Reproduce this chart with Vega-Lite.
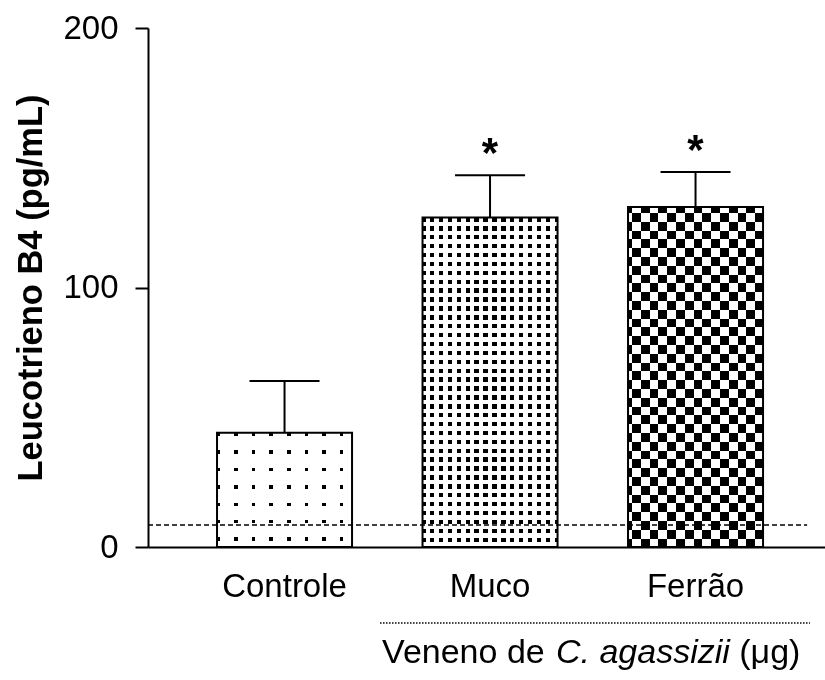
{
  "$schema": "https://vega.github.io/schema/vega-lite/v6.json",
  "width": 677,
  "height": 519,
  "autosize": "none",
  "padding": {"left": 148, "top": 28, "right": 0, "bottom": 133},
  "config": {
    "font": "Liberation Sans",
    "view": {"stroke": null},
    "axisY": {"grid": false, "tickSize": 13, "tickWidth": 2, "tickColor": "black", "domainWidth": 2, "domainColor": "black", "labelFontSize": 33, "labelPadding": 17, "labelColor": "black", "titleFontSize": 34.5, "titleFontWeight": "bold", "titleColor": "black", "titlePadding": 14}
  },
  "data": {
    "values": [
      {"grupo": "Controle", "media": 44, "sup": 64, "sig": ""},
      {"grupo": "Muco", "media": 127, "sup": 143.3, "sig": "*"},
      {"grupo": "Ferrão", "media": 131, "sup": 144.5, "sig": "*"}
    ]
  },
  "resolve": {"scale": {"x": "independent"}},
  "layer": [
    {
      "encoding": {
        "x": {
          "field": "grupo", "type": "nominal",
          "scale": {"domain": ["Controle", "Muco", "Ferrão"], "paddingInner": 0.343, "paddingOuter": 0.3187, "align": 0.527},
          "axis": {"title": null, "ticks": false, "tickSize": 0, "labelFontSize": 33, "labelPadding": 23, "labelAngle": 0, "domainWidth": 2, "domainColor": "black", "labelColor": "black"}
        },
        "y": {
          "field": "media", "type": "quantitative",
          "scale": {"domain": [0, 200], "nice": false, "zero": false},
          "axis": {"title": "Leucotrieno B4 (pg/mL)", "values": [0, 100, 200]}
        }
      },
      "layer": [
        {
          "transform": [{"filter": "datum.grupo == 'Controle'"}],
          "mark": {"type": "bar", "fill": {"gradient": "linear", "x1": 0, "y1": 0, "x2": 1, "y2": 0, "stops": [
            {"offset": 0, "color": "#000"}, {"offset": 0.0222, "color": "#000"}, {"offset": 0.0222, "color": "#fff"}, {"offset": 0.1274, "color": "#fff"},
            {"offset": 0.1274, "color": "#000"}, {"offset": 0.1526, "color": "#000"}, {"offset": 0.1526, "color": "#fff"}, {"offset": 0.2584, "color": "#fff"},
            {"offset": 0.2584, "color": "#000"}, {"offset": 0.2836, "color": "#000"}, {"offset": 0.2836, "color": "#fff"}, {"offset": 0.3884, "color": "#fff"},
            {"offset": 0.3884, "color": "#000"}, {"offset": 0.4136, "color": "#000"}, {"offset": 0.4136, "color": "#fff"}, {"offset": 0.5194, "color": "#fff"},
            {"offset": 0.5194, "color": "#000"}, {"offset": 0.5446, "color": "#000"}, {"offset": 0.5446, "color": "#fff"}, {"offset": 0.6504, "color": "#fff"},
            {"offset": 0.6504, "color": "#000"}, {"offset": 0.6756, "color": "#000"}, {"offset": 0.6756, "color": "#fff"}, {"offset": 0.7804, "color": "#fff"},
            {"offset": 0.7804, "color": "#000"}, {"offset": 0.8056, "color": "#000"}, {"offset": 0.8056, "color": "#fff"}, {"offset": 0.9114, "color": "#fff"},
            {"offset": 0.9114, "color": "#000"}, {"offset": 0.9366, "color": "#000"}, {"offset": 0.9366, "color": "#fff"}, {"offset": 1, "color": "#fff"}
          ]}}
        },
        {
          "transform": [{"filter": "datum.grupo == 'Controle'"}],
          "mark": {"type": "bar", "fill": {"gradient": "linear", "x1": 0, "y1": 0, "x2": 0, "y2": 1, "stops": [
            {"offset": 0, "color": "#fff"}, {"offset": 0.0017, "color": "#fff"}, {"offset": 0.0017, "color": "rgba(255,255,255,0)"}, {"offset": 0.0315, "color": "rgba(255,255,255,0)"},
            {"offset": 0.0315, "color": "#fff"}, {"offset": 0.1541, "color": "#fff"}, {"offset": 0.1541, "color": "rgba(255,255,255,0)"}, {"offset": 0.1839, "color": "rgba(255,255,255,0)"},
            {"offset": 0.1839, "color": "#fff"}, {"offset": 0.3061, "color": "#fff"}, {"offset": 0.3061, "color": "rgba(255,255,255,0)"}, {"offset": 0.3359, "color": "rgba(255,255,255,0)"},
            {"offset": 0.3359, "color": "#fff"}, {"offset": 0.4591, "color": "#fff"}, {"offset": 0.4591, "color": "rgba(255,255,255,0)"}, {"offset": 0.4889, "color": "rgba(255,255,255,0)"},
            {"offset": 0.4889, "color": "#fff"}, {"offset": 0.6111, "color": "#fff"}, {"offset": 0.6111, "color": "rgba(255,255,255,0)"}, {"offset": 0.6409, "color": "rgba(255,255,255,0)"},
            {"offset": 0.6409, "color": "#fff"}, {"offset": 0.7631, "color": "#fff"}, {"offset": 0.7631, "color": "rgba(255,255,255,0)"}, {"offset": 0.7929, "color": "rgba(255,255,255,0)"},
            {"offset": 0.7929, "color": "#fff"}, {"offset": 0.9161, "color": "#fff"}, {"offset": 0.9161, "color": "rgba(255,255,255,0)"}, {"offset": 0.9459, "color": "rgba(255,255,255,0)"},
            {"offset": 0.9459, "color": "#fff"}, {"offset": 1, "color": "#fff"}
          ]}}
        },
        {
          "transform": [{"filter": "datum.grupo == 'Muco'"}],
          "mark": {"type": "bar", "fill": {"gradient": "linear", "x1": 0, "y1": 0, "x2": 1, "y2": 0, "stops": [
            {"offset": 0, "color": "#000"}, {"offset": 0.0222, "color": "#000"}, {"offset": 0.0222, "color": "#fff"}, {"offset": 0.0555, "color": "#fff"},
            {"offset": 0.0555, "color": "#000"}, {"offset": 0.0881, "color": "#000"}, {"offset": 0.0881, "color": "#fff"}, {"offset": 0.1214, "color": "#fff"},
            {"offset": 0.1214, "color": "#000"}, {"offset": 0.154, "color": "#000"}, {"offset": 0.154, "color": "#fff"}, {"offset": 0.1873, "color": "#fff"},
            {"offset": 0.1873, "color": "#000"}, {"offset": 0.2199, "color": "#000"}, {"offset": 0.2199, "color": "#fff"}, {"offset": 0.2531, "color": "#fff"},
            {"offset": 0.2531, "color": "#000"}, {"offset": 0.2857, "color": "#000"}, {"offset": 0.2857, "color": "#fff"}, {"offset": 0.319, "color": "#fff"},
            {"offset": 0.319, "color": "#000"}, {"offset": 0.3516, "color": "#000"}, {"offset": 0.3516, "color": "#fff"}, {"offset": 0.3849, "color": "#fff"},
            {"offset": 0.3849, "color": "#000"}, {"offset": 0.4175, "color": "#000"}, {"offset": 0.4175, "color": "#fff"}, {"offset": 0.4508, "color": "#fff"},
            {"offset": 0.4508, "color": "#000"}, {"offset": 0.4834, "color": "#000"}, {"offset": 0.4834, "color": "#fff"}, {"offset": 0.5166, "color": "#fff"},
            {"offset": 0.5166, "color": "#000"}, {"offset": 0.5492, "color": "#000"}, {"offset": 0.5492, "color": "#fff"}, {"offset": 0.5825, "color": "#fff"},
            {"offset": 0.5825, "color": "#000"}, {"offset": 0.6151, "color": "#000"}, {"offset": 0.6151, "color": "#fff"}, {"offset": 0.6484, "color": "#fff"},
            {"offset": 0.6484, "color": "#000"}, {"offset": 0.681, "color": "#000"}, {"offset": 0.681, "color": "#fff"}, {"offset": 0.7143, "color": "#fff"},
            {"offset": 0.7143, "color": "#000"}, {"offset": 0.7469, "color": "#000"}, {"offset": 0.7469, "color": "#fff"}, {"offset": 0.7801, "color": "#fff"},
            {"offset": 0.7801, "color": "#000"}, {"offset": 0.8127, "color": "#000"}, {"offset": 0.8127, "color": "#fff"}, {"offset": 0.846, "color": "#fff"},
            {"offset": 0.846, "color": "#000"}, {"offset": 0.8786, "color": "#000"}, {"offset": 0.8786, "color": "#fff"}, {"offset": 0.9119, "color": "#fff"},
            {"offset": 0.9119, "color": "#000"}, {"offset": 0.9445, "color": "#000"}, {"offset": 0.9445, "color": "#fff"}, {"offset": 0.9778, "color": "#fff"},
            {"offset": 0.9778, "color": "#000"}, {"offset": 1, "color": "#000"}
          ]}}
        },
        {
          "transform": [{"filter": "datum.grupo == 'Muco'"}],
          "mark": {"type": "bar", "fill": {"gradient": "linear", "x1": 0, "y1": 0, "x2": 0, "y2": 1, "stops": [
            {"offset": 0, "color": "rgba(255,255,255,0)"}, {"offset": 0.0128, "color": "rgba(255,255,255,0)"}, {"offset": 0.0128, "color": "#fff"}, {"offset": 0.0264, "color": "#fff"},
            {"offset": 0.0264, "color": "rgba(255,255,255,0)"}, {"offset": 0.0398, "color": "rgba(255,255,255,0)"}, {"offset": 0.0398, "color": "#fff"}, {"offset": 0.0534, "color": "#fff"},
            {"offset": 0.0534, "color": "rgba(255,255,255,0)"}, {"offset": 0.0668, "color": "rgba(255,255,255,0)"}, {"offset": 0.0668, "color": "#fff"}, {"offset": 0.0804, "color": "#fff"},
            {"offset": 0.0804, "color": "rgba(255,255,255,0)"}, {"offset": 0.0938, "color": "rgba(255,255,255,0)"}, {"offset": 0.0938, "color": "#fff"}, {"offset": 0.1074, "color": "#fff"},
            {"offset": 0.1074, "color": "rgba(255,255,255,0)"}, {"offset": 0.1208, "color": "rgba(255,255,255,0)"}, {"offset": 0.1208, "color": "#fff"}, {"offset": 0.1344, "color": "#fff"},
            {"offset": 0.1344, "color": "rgba(255,255,255,0)"}, {"offset": 0.1478, "color": "rgba(255,255,255,0)"}, {"offset": 0.1478, "color": "#fff"}, {"offset": 0.1614, "color": "#fff"},
            {"offset": 0.1614, "color": "rgba(255,255,255,0)"}, {"offset": 0.1748, "color": "rgba(255,255,255,0)"}, {"offset": 0.1748, "color": "#fff"}, {"offset": 0.1884, "color": "#fff"},
            {"offset": 0.1884, "color": "rgba(255,255,255,0)"}, {"offset": 0.2018, "color": "rgba(255,255,255,0)"}, {"offset": 0.2018, "color": "#fff"}, {"offset": 0.2154, "color": "#fff"},
            {"offset": 0.2154, "color": "rgba(255,255,255,0)"}, {"offset": 0.2288, "color": "rgba(255,255,255,0)"}, {"offset": 0.2288, "color": "#fff"}, {"offset": 0.2424, "color": "#fff"},
            {"offset": 0.2424, "color": "rgba(255,255,255,0)"}, {"offset": 0.2558, "color": "rgba(255,255,255,0)"}, {"offset": 0.2558, "color": "#fff"}, {"offset": 0.2694, "color": "#fff"},
            {"offset": 0.2694, "color": "rgba(255,255,255,0)"}, {"offset": 0.2828, "color": "rgba(255,255,255,0)"}, {"offset": 0.2828, "color": "#fff"}, {"offset": 0.2964, "color": "#fff"},
            {"offset": 0.2964, "color": "rgba(255,255,255,0)"}, {"offset": 0.3098, "color": "rgba(255,255,255,0)"}, {"offset": 0.3098, "color": "#fff"}, {"offset": 0.3234, "color": "#fff"},
            {"offset": 0.3234, "color": "rgba(255,255,255,0)"}, {"offset": 0.3368, "color": "rgba(255,255,255,0)"}, {"offset": 0.3368, "color": "#fff"}, {"offset": 0.3504, "color": "#fff"},
            {"offset": 0.3504, "color": "rgba(255,255,255,0)"}, {"offset": 0.3638, "color": "rgba(255,255,255,0)"}, {"offset": 0.3638, "color": "#fff"}, {"offset": 0.3774, "color": "#fff"},
            {"offset": 0.3774, "color": "rgba(255,255,255,0)"}, {"offset": 0.3908, "color": "rgba(255,255,255,0)"}, {"offset": 0.3908, "color": "#fff"}, {"offset": 0.4044, "color": "#fff"},
            {"offset": 0.4044, "color": "rgba(255,255,255,0)"}, {"offset": 0.4178, "color": "rgba(255,255,255,0)"}, {"offset": 0.4178, "color": "#fff"}, {"offset": 0.4314, "color": "#fff"},
            {"offset": 0.4314, "color": "rgba(255,255,255,0)"}, {"offset": 0.4448, "color": "rgba(255,255,255,0)"}, {"offset": 0.4448, "color": "#fff"}, {"offset": 0.4584, "color": "#fff"},
            {"offset": 0.4584, "color": "rgba(255,255,255,0)"}, {"offset": 0.4718, "color": "rgba(255,255,255,0)"}, {"offset": 0.4718, "color": "#fff"}, {"offset": 0.4854, "color": "#fff"},
            {"offset": 0.4854, "color": "rgba(255,255,255,0)"}, {"offset": 0.4988, "color": "rgba(255,255,255,0)"}, {"offset": 0.4988, "color": "#fff"}, {"offset": 0.5124, "color": "#fff"},
            {"offset": 0.5124, "color": "rgba(255,255,255,0)"}, {"offset": 0.5258, "color": "rgba(255,255,255,0)"}, {"offset": 0.5258, "color": "#fff"}, {"offset": 0.5394, "color": "#fff"},
            {"offset": 0.5394, "color": "rgba(255,255,255,0)"}, {"offset": 0.5528, "color": "rgba(255,255,255,0)"}, {"offset": 0.5528, "color": "#fff"}, {"offset": 0.5664, "color": "#fff"},
            {"offset": 0.5664, "color": "rgba(255,255,255,0)"}, {"offset": 0.5798, "color": "rgba(255,255,255,0)"}, {"offset": 0.5798, "color": "#fff"}, {"offset": 0.5934, "color": "#fff"},
            {"offset": 0.5934, "color": "rgba(255,255,255,0)"}, {"offset": 0.6068, "color": "rgba(255,255,255,0)"}, {"offset": 0.6068, "color": "#fff"}, {"offset": 0.6204, "color": "#fff"},
            {"offset": 0.6204, "color": "rgba(255,255,255,0)"}, {"offset": 0.6338, "color": "rgba(255,255,255,0)"}, {"offset": 0.6338, "color": "#fff"}, {"offset": 0.6474, "color": "#fff"},
            {"offset": 0.6474, "color": "rgba(255,255,255,0)"}, {"offset": 0.6608, "color": "rgba(255,255,255,0)"}, {"offset": 0.6608, "color": "#fff"}, {"offset": 0.6744, "color": "#fff"},
            {"offset": 0.6744, "color": "rgba(255,255,255,0)"}, {"offset": 0.6878, "color": "rgba(255,255,255,0)"}, {"offset": 0.6878, "color": "#fff"}, {"offset": 0.7014, "color": "#fff"},
            {"offset": 0.7014, "color": "rgba(255,255,255,0)"}, {"offset": 0.7148, "color": "rgba(255,255,255,0)"}, {"offset": 0.7148, "color": "#fff"}, {"offset": 0.7284, "color": "#fff"},
            {"offset": 0.7284, "color": "rgba(255,255,255,0)"}, {"offset": 0.7418, "color": "rgba(255,255,255,0)"}, {"offset": 0.7418, "color": "#fff"}, {"offset": 0.7554, "color": "#fff"},
            {"offset": 0.7554, "color": "rgba(255,255,255,0)"}, {"offset": 0.7688, "color": "rgba(255,255,255,0)"}, {"offset": 0.7688, "color": "#fff"}, {"offset": 0.7824, "color": "#fff"},
            {"offset": 0.7824, "color": "rgba(255,255,255,0)"}, {"offset": 0.7958, "color": "rgba(255,255,255,0)"}, {"offset": 0.7958, "color": "#fff"}, {"offset": 0.8094, "color": "#fff"},
            {"offset": 0.8094, "color": "rgba(255,255,255,0)"}, {"offset": 0.8228, "color": "rgba(255,255,255,0)"}, {"offset": 0.8228, "color": "#fff"}, {"offset": 0.8364, "color": "#fff"},
            {"offset": 0.8364, "color": "rgba(255,255,255,0)"}, {"offset": 0.8498, "color": "rgba(255,255,255,0)"}, {"offset": 0.8498, "color": "#fff"}, {"offset": 0.8634, "color": "#fff"},
            {"offset": 0.8634, "color": "rgba(255,255,255,0)"}, {"offset": 0.8768, "color": "rgba(255,255,255,0)"}, {"offset": 0.8768, "color": "#fff"}, {"offset": 0.8904, "color": "#fff"},
            {"offset": 0.8904, "color": "rgba(255,255,255,0)"}, {"offset": 0.9038, "color": "rgba(255,255,255,0)"}, {"offset": 0.9038, "color": "#fff"}, {"offset": 0.9174, "color": "#fff"},
            {"offset": 0.9174, "color": "rgba(255,255,255,0)"}, {"offset": 0.9308, "color": "rgba(255,255,255,0)"}, {"offset": 0.9308, "color": "#fff"}, {"offset": 0.9444, "color": "#fff"},
            {"offset": 0.9444, "color": "rgba(255,255,255,0)"}, {"offset": 0.9578, "color": "rgba(255,255,255,0)"}, {"offset": 0.9578, "color": "#fff"}, {"offset": 0.9714, "color": "#fff"},
            {"offset": 0.9714, "color": "rgba(255,255,255,0)"}, {"offset": 0.9848, "color": "rgba(255,255,255,0)"}, {"offset": 0.9848, "color": "#fff"}, {"offset": 1, "color": "#fff"}
          ]}}
        },
        {
          "transform": [{"filter": "datum.grupo == 'Ferrão'"}],
          "mark": {"type": "bar", "fill": {"gradient": "linear", "x1": 0, "y1": 0, "x2": 1, "y2": 0, "stops": [
            {"offset": 0, "color": "#000"}, {"offset": 0.0296, "color": "#000"}, {"offset": 0.0296, "color": "#fff"}, {"offset": 0.0948, "color": "#fff"},
            {"offset": 0.0948, "color": "#000"}, {"offset": 0.16, "color": "#000"}, {"offset": 0.16, "color": "#fff"}, {"offset": 0.2252, "color": "#fff"},
            {"offset": 0.2252, "color": "#000"}, {"offset": 0.2904, "color": "#000"}, {"offset": 0.2904, "color": "#fff"}, {"offset": 0.3556, "color": "#fff"},
            {"offset": 0.3556, "color": "#000"}, {"offset": 0.4207, "color": "#000"}, {"offset": 0.4207, "color": "#fff"}, {"offset": 0.4859, "color": "#fff"},
            {"offset": 0.4859, "color": "#000"}, {"offset": 0.5511, "color": "#000"}, {"offset": 0.5511, "color": "#fff"}, {"offset": 0.6163, "color": "#fff"},
            {"offset": 0.6163, "color": "#000"}, {"offset": 0.6815, "color": "#000"}, {"offset": 0.6815, "color": "#fff"}, {"offset": 0.7467, "color": "#fff"},
            {"offset": 0.7467, "color": "#000"}, {"offset": 0.8119, "color": "#000"}, {"offset": 0.8119, "color": "#fff"}, {"offset": 0.877, "color": "#fff"},
            {"offset": 0.877, "color": "#000"}, {"offset": 0.9422, "color": "#000"}, {"offset": 0.9422, "color": "#fff"}, {"offset": 1, "color": "#fff"}
          ]}}
        },
        {
          "transform": [{"filter": "datum.grupo == 'Ferrão'"}],
          "mark": {"type": "bar", "blend": "difference", "fill": {"gradient": "linear", "x1": 0, "y1": 0, "x2": 0, "y2": 1, "stops": [
            {"offset": 0, "color": "rgba(255,255,255,0)"}, {"offset": 0.0177, "color": "rgba(255,255,255,0)"}, {"offset": 0.0177, "color": "#fff"}, {"offset": 0.0435, "color": "#fff"},
            {"offset": 0.0435, "color": "rgba(255,255,255,0)"}, {"offset": 0.0694, "color": "rgba(255,255,255,0)"}, {"offset": 0.0694, "color": "#fff"}, {"offset": 0.0953, "color": "#fff"},
            {"offset": 0.0953, "color": "rgba(255,255,255,0)"}, {"offset": 0.1212, "color": "rgba(255,255,255,0)"}, {"offset": 0.1212, "color": "#fff"}, {"offset": 0.1471, "color": "#fff"},
            {"offset": 0.1471, "color": "rgba(255,255,255,0)"}, {"offset": 0.173, "color": "rgba(255,255,255,0)"}, {"offset": 0.173, "color": "#fff"}, {"offset": 0.1989, "color": "#fff"},
            {"offset": 0.1989, "color": "rgba(255,255,255,0)"}, {"offset": 0.2248, "color": "rgba(255,255,255,0)"}, {"offset": 0.2248, "color": "#fff"}, {"offset": 0.2507, "color": "#fff"},
            {"offset": 0.2507, "color": "rgba(255,255,255,0)"}, {"offset": 0.2766, "color": "rgba(255,255,255,0)"}, {"offset": 0.2766, "color": "#fff"}, {"offset": 0.3024, "color": "#fff"},
            {"offset": 0.3024, "color": "rgba(255,255,255,0)"}, {"offset": 0.3283, "color": "rgba(255,255,255,0)"}, {"offset": 0.3283, "color": "#fff"}, {"offset": 0.3542, "color": "#fff"},
            {"offset": 0.3542, "color": "rgba(255,255,255,0)"}, {"offset": 0.3801, "color": "rgba(255,255,255,0)"}, {"offset": 0.3801, "color": "#fff"}, {"offset": 0.406, "color": "#fff"},
            {"offset": 0.406, "color": "rgba(255,255,255,0)"}, {"offset": 0.4319, "color": "rgba(255,255,255,0)"}, {"offset": 0.4319, "color": "#fff"}, {"offset": 0.4578, "color": "#fff"},
            {"offset": 0.4578, "color": "rgba(255,255,255,0)"}, {"offset": 0.4837, "color": "rgba(255,255,255,0)"}, {"offset": 0.4837, "color": "#fff"}, {"offset": 0.5096, "color": "#fff"},
            {"offset": 0.5096, "color": "rgba(255,255,255,0)"}, {"offset": 0.5354, "color": "rgba(255,255,255,0)"}, {"offset": 0.5354, "color": "#fff"}, {"offset": 0.5613, "color": "#fff"},
            {"offset": 0.5613, "color": "rgba(255,255,255,0)"}, {"offset": 0.5872, "color": "rgba(255,255,255,0)"}, {"offset": 0.5872, "color": "#fff"}, {"offset": 0.6131, "color": "#fff"},
            {"offset": 0.6131, "color": "rgba(255,255,255,0)"}, {"offset": 0.639, "color": "rgba(255,255,255,0)"}, {"offset": 0.639, "color": "#fff"}, {"offset": 0.6649, "color": "#fff"},
            {"offset": 0.6649, "color": "rgba(255,255,255,0)"}, {"offset": 0.6908, "color": "rgba(255,255,255,0)"}, {"offset": 0.6908, "color": "#fff"}, {"offset": 0.7167, "color": "#fff"},
            {"offset": 0.7167, "color": "rgba(255,255,255,0)"}, {"offset": 0.7426, "color": "rgba(255,255,255,0)"}, {"offset": 0.7426, "color": "#fff"}, {"offset": 0.7685, "color": "#fff"},
            {"offset": 0.7685, "color": "rgba(255,255,255,0)"}, {"offset": 0.7943, "color": "rgba(255,255,255,0)"}, {"offset": 0.7943, "color": "#fff"}, {"offset": 0.8202, "color": "#fff"},
            {"offset": 0.8202, "color": "rgba(255,255,255,0)"}, {"offset": 0.8461, "color": "rgba(255,255,255,0)"}, {"offset": 0.8461, "color": "#fff"}, {"offset": 0.872, "color": "#fff"},
            {"offset": 0.872, "color": "rgba(255,255,255,0)"}, {"offset": 0.8979, "color": "rgba(255,255,255,0)"}, {"offset": 0.8979, "color": "#fff"}, {"offset": 0.9238, "color": "#fff"},
            {"offset": 0.9238, "color": "rgba(255,255,255,0)"}, {"offset": 0.9497, "color": "rgba(255,255,255,0)"}, {"offset": 0.9497, "color": "#fff"}, {"offset": 0.9756, "color": "#fff"},
            {"offset": 0.9756, "color": "rgba(255,255,255,0)"}, {"offset": 1, "color": "rgba(255,255,255,0)"}
          ]}}
        },
        {
          "mark": {"type": "bar", "fillOpacity": 0, "stroke": "black", "strokeWidth": 2}
        },
        {
          "mark": {"type": "rule", "color": "black", "strokeWidth": 2},
          "encoding": {"y2": {"field": "sup"}}
        },
        {
          "mark": {"type": "tick", "orient": "horizontal", "size": 70, "thickness": 2, "color": "black", "opacity": 1},
          "encoding": {"y": {"field": "sup", "type": "quantitative", "scale": {"domain": [0, 200], "nice": false, "zero": false}, "axis": {"title": "Leucotrieno B4 (pg/mL)", "values": [0, 100, 200]}}}
        },
        {
          "mark": {"type": "text", "fontSize": 42, "fontWeight": "bold", "baseline": "alphabetic", "dy": -8, "color": "black"},
          "encoding": {
            "y": {"field": "sup", "type": "quantitative", "scale": {"domain": [0, 200], "nice": false, "zero": false}, "axis": {"title": "Leucotrieno B4 (pg/mL)", "values": [0, 100, 200]}},
            "text": {"field": "sig"}
          }
        }
      ]
    },
    {
      "data": {"values": [{}]},
      "layer": [
        {
          "mark": {"type": "rule", "color": "black", "strokeWidth": 1.5, "strokeDash": [5, 3]},
          "encoding": {
            "x": {"datum": 0.336, "type": "quantitative", "scale": {"domain": [0.336, 3.63], "nice": false, "zero": false}, "axis": null},
            "x2": {"datum": 3.543},
            "y": {"datum": 8.5, "type": "quantitative", "scale": {"domain": [0, 200], "nice": false, "zero": false}, "axis": {"title": "Leucotrieno B4 (pg/mL)", "values": [0, 100, 200]}}
          }
        },
        {
          "mark": {"type": "rule", "color": "black", "strokeWidth": 1.5, "strokeDash": [1.5, 1.5]},
          "encoding": {
            "x": {"datum": 1.465, "type": "quantitative", "scale": {"domain": [0.336, 3.63], "nice": false, "zero": false}, "axis": null},
            "x2": {"datum": 3.557},
            "y": {"datum": -29.3, "type": "quantitative", "scale": {"domain": [0, 200], "nice": false, "zero": false}, "axis": {"title": "Leucotrieno B4 (pg/mL)", "values": [0, 100, 200]}}
          }
        },
        {
          "mark": {"type": "text", "text": "Veneno de", "fontSize": 34, "align": "left", "baseline": "alphabetic", "color": "black"},
          "encoding": {
            "x": {"datum": 1.475, "type": "quantitative", "scale": {"domain": [0.336, 3.63], "nice": false, "zero": false}, "axis": null},
            "y": {"datum": -44.7, "type": "quantitative", "scale": {"domain": [0, 200], "nice": false, "zero": false}, "axis": {"title": "Leucotrieno B4 (pg/mL)", "values": [0, 100, 200]}}
          }
        },
        {
          "mark": {"type": "text", "text": "C. agassizii", "fontSize": 34, "fontStyle": "italic", "align": "left", "baseline": "alphabetic", "color": "black"},
          "encoding": {
            "x": {"datum": 2.321, "type": "quantitative", "scale": {"domain": [0.336, 3.63], "nice": false, "zero": false}, "axis": null},
            "y": {"datum": -44.7, "type": "quantitative", "scale": {"domain": [0, 200], "nice": false, "zero": false}, "axis": {"title": "Leucotrieno B4 (pg/mL)", "values": [0, 100, 200]}}
          }
        },
        {
          "mark": {"type": "text", "text": "(μg)", "fontSize": 34, "align": "left", "baseline": "alphabetic", "color": "black"},
          "encoding": {
            "x": {"datum": 3.213, "type": "quantitative", "scale": {"domain": [0.336, 3.63], "nice": false, "zero": false}, "axis": null},
            "y": {"datum": -44.7, "type": "quantitative", "scale": {"domain": [0, 200], "nice": false, "zero": false}, "axis": {"title": "Leucotrieno B4 (pg/mL)", "values": [0, 100, 200]}}
          }
        }
      ]
    }
  ]
}
